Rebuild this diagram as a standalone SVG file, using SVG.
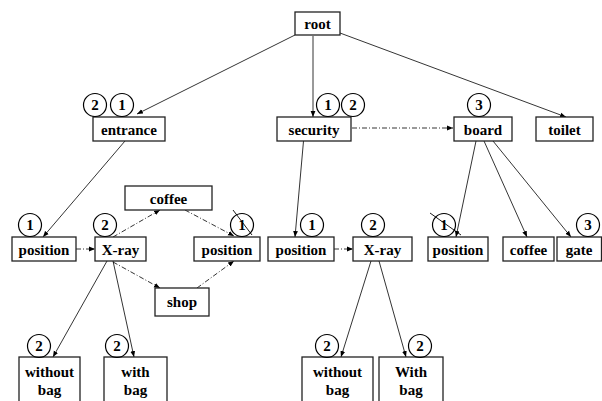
<svg xmlns="http://www.w3.org/2000/svg" width="602" height="401" viewBox="0 0 602 401">
<defs>
<marker id="ah" markerUnits="userSpaceOnUse" markerWidth="6" markerHeight="6" viewBox="0 0 6 6" refX="6" refY="3" orient="auto">
<path d="M0,0.6 L6,3 L0,5.4 Z" fill="#000"/>
</marker>
<style>
.box{fill:#fff;stroke:#222;stroke-width:1.3}
.t{font-family:"Liberation Serif","Times New Roman",serif;font-weight:bold;font-size:15px;text-anchor:middle;fill:#000}
.c{fill:none;stroke:#000;stroke-width:1.2}
.e{stroke:#000;stroke-width:0.8;fill:none;marker-end:url(#ah)}
.d{stroke-dasharray:5,2,1,2}
.s{stroke:#000;stroke-width:0.9}
</style>
</defs>
<rect width="602" height="401" fill="#fff"/>
<g id="connectors">
<line class="e" x1="295" y1="35" x2="137" y2="114"/>
<line class="e" x1="313" y1="36" x2="313" y2="117"/>
<line class="e" x1="340" y1="33" x2="566" y2="117"/>
<line class="e" x1="125" y1="141" x2="43" y2="237"/>
<line class="e" x1="303.5" y1="141" x2="295" y2="237"/>
<line class="e" x1="476" y1="141" x2="456" y2="237"/>
<line class="e" x1="484" y1="141" x2="527" y2="237"/>
<line class="e" x1="493" y1="141" x2="571" y2="237"/>
<line class="e" x1="107" y1="261" x2="53" y2="357"/>
<line class="e" x1="113" y1="261" x2="134" y2="357"/>
<line class="e" x1="371" y1="261" x2="341" y2="357"/>
<line class="e" x1="379" y1="261" x2="406" y2="357"/>
<line class="e d" x1="352" y1="128" x2="453" y2="128"/>
<line class="e d" x1="76" y1="249" x2="95" y2="249"/>
<line class="e d" x1="113" y1="237" x2="160" y2="210"/>
<line class="e d" x1="185" y1="210" x2="234" y2="236"/>
<line class="e d" x1="113" y1="262" x2="160" y2="288"/>
<line class="e d" x1="197" y1="288" x2="234" y2="261"/>
<line class="e d" x1="334" y1="249" x2="353" y2="249"/>
</g>
<g id="root"><rect class="box" x="295" y="12" width="45" height="23"/><text class="t" x="317.5" y="28.5">root</text></g>
<g id="entrance"><rect class="box" x="93" y="117" width="72" height="24"/><text class="t" x="129" y="134.5">entrance</text>
<circle class="c" cx="95" cy="105" r="11.5"/><text class="t" x="95" y="110">2</text>
<circle class="c" cx="122" cy="105" r="11.5"/><text class="t" x="122" y="110">1</text></g>
<g id="security"><rect class="box" x="277" y="117" width="74" height="24"/><text class="t" x="314" y="134.5">security</text>
<circle class="c" cx="328" cy="105" r="11.5"/><text class="t" x="328" y="110">1</text>
<circle class="c" cx="353" cy="105" r="11.5"/><text class="t" x="353" y="110">2</text></g>
<g id="board"><rect class="box" x="454" y="117" width="58" height="24"/><text class="t" x="483" y="134.5">board</text>
<circle class="c" cx="479" cy="105" r="11.5"/><text class="t" x="479" y="110">3</text></g>
<g id="toilet"><rect class="box" x="536" y="117" width="57" height="24"/><text class="t" x="564.5" y="134.5">toilet</text></g>
<g id="coffee1"><rect class="box" x="125" y="186" width="87" height="24"/><text class="t" x="168.5" y="203.5">coffee</text></g>
<g id="position1"><rect class="box" x="12" y="237" width="64" height="24"/><text class="t" x="44" y="254.5">position</text>
<circle class="c" cx="30" cy="225" r="11.5"/><text class="t" x="30" y="230">1</text></g>
<g id="xray1"><rect class="box" x="95" y="237" width="51" height="24"/><text class="t" x="120.5" y="254.5">X-ray</text>
<circle class="c" cx="105" cy="225" r="11.5"/><text class="t" x="105" y="230">2</text></g>
<g id="position2"><rect class="box" x="194" y="237" width="66" height="24"/><text class="t" x="227" y="254.5">position</text>
<circle class="c" cx="242" cy="225" r="11.5"/><text class="t" x="242" y="230">1</text>
<line class="s" x1="233" y1="210" x2="252" y2="235"/></g>
<g id="shop"><rect class="box" x="155" y="288" width="54" height="28"/><text class="t" x="182" y="307">shop</text></g>
<g id="position3"><rect class="box" x="268" y="237" width="66" height="24"/><text class="t" x="301" y="254.5">position</text>
<circle class="c" cx="312" cy="225" r="11.5"/><text class="t" x="312" y="230">1</text></g>
<g id="xray2"><rect class="box" x="353" y="237" width="59" height="24"/><text class="t" x="382.5" y="254.5">X-ray</text>
<circle class="c" cx="373" cy="225" r="11.5"/><text class="t" x="373" y="230">2</text></g>
<g id="position4"><rect class="box" x="428" y="237" width="60" height="24"/><text class="t" x="458" y="254.5">position</text>
<circle class="c" cx="444" cy="225" r="11.5"/><text class="t" x="444" y="230">1</text>
<line class="s" x1="430" y1="213" x2="461" y2="235"/></g>
<g id="coffee2"><rect class="box" x="503" y="237" width="51" height="24"/><text class="t" x="528.5" y="254.5">coffee</text></g>
<g id="gate"><rect class="box" x="557" y="237" width="44.5" height="24"/><text class="t" x="579" y="254.5">gate</text>
<circle class="c" cx="588" cy="225" r="11.5"/><text class="t" x="588" y="230">3</text></g>
<g id="withoutbag1"><rect class="box" x="19" y="357" width="61" height="50"/><text class="t" x="49.5" y="376.5">without</text><text class="t" x="49.5" y="394.5">bag</text>
<circle class="c" cx="39" cy="346" r="11.5"/><text class="t" x="39" y="351">2</text></g>
<g id="withbag1"><rect class="box" x="104" y="357" width="63" height="50"/><text class="t" x="135.5" y="376.5">with</text><text class="t" x="135.5" y="394.5">bag</text>
<circle class="c" cx="117" cy="346" r="11.5"/><text class="t" x="117" y="351">2</text></g>
<g id="withoutbag2"><rect class="box" x="302" y="357" width="71" height="50"/><text class="t" x="337.5" y="376.5">without</text><text class="t" x="337.5" y="394.5">bag</text>
<circle class="c" cx="327" cy="346" r="11.5"/><text class="t" x="327" y="351">2</text></g>
<g id="withbag2"><rect class="box" x="379" y="357" width="64" height="50"/><text class="t" x="411" y="376.5">With</text><text class="t" x="411" y="394.5">bag</text>
<circle class="c" cx="420" cy="346" r="11.5"/><text class="t" x="420" y="351">2</text></g>
</svg>
